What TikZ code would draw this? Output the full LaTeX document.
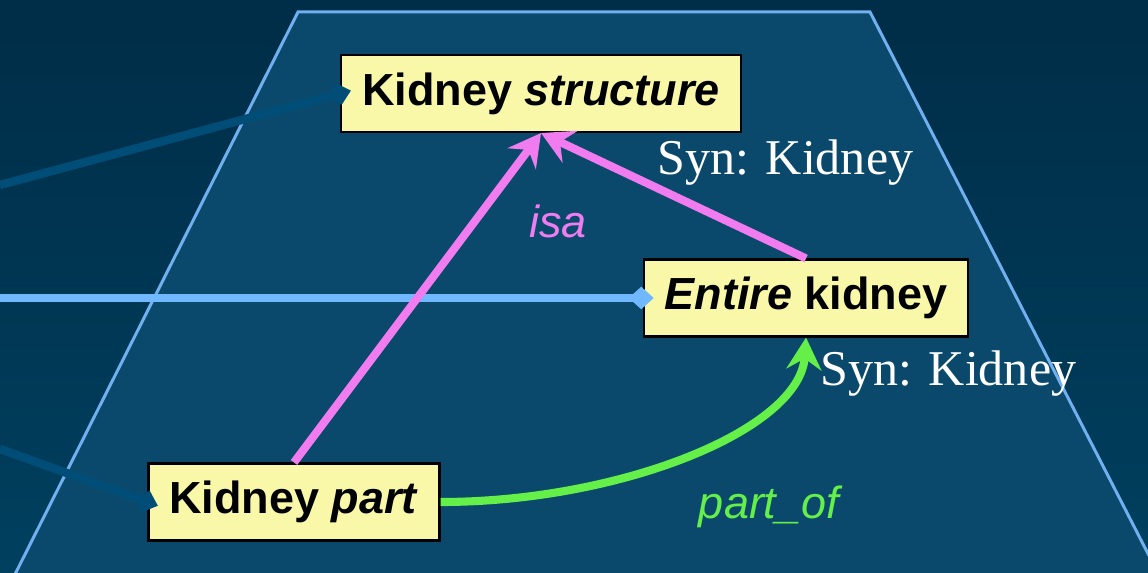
\documentclass[tikz,border=0pt]{standalone}
\usepackage{fontspec}
\setmainfont{Liberation Serif}
\setsansfont{Liberation Sans}
\usetikzlibrary{arrows.meta,positioning,calc}

\definecolor{slidetop}{HTML}{002D47}
\definecolor{slidebot}{HTML}{00405F}
\definecolor{planefill}{HTML}{0B496C}
\definecolor{planeedge}{HTML}{70B0F0}
\definecolor{termfill}{HTML}{F8F8A8}
\definecolor{isapink}{HTML}{F07CF0}
\definecolor{partgreen}{HTML}{64F048}
\definecolor{linklight}{HTML}{70B8FF}
\definecolor{linkdark}{HTML}{004E78}

\tikzset{
  term/.style={draw=black, line width=1.2pt, fill=termfill,
    font=\sffamily\bfseries\fontsize{25.6}{30}\selectfont,
    inner xsep=0.42cm, minimum height=1.54cm},
  syn/.style={text=white, font=\fontsize{28.5}{32}\selectfont, inner sep=0pt},
  rellabel/.style={font=\sffamily\itshape\fontsize{25.6}{30}\selectfont, inner sep=0pt},
  rel/.style={line width=4.6pt, -{Stealth[length=0.64cm,width=0.7cm,inset=0.22cm]}},
  link/.style={line width=4.8pt, -{Diamond[length=0.5cm,width=0.45cm]}, shorten >=-0.22cm},
}

\begin{document}
\begin{tikzpicture}[x=0.02cm, y=-0.02cm]
  \useasboundingbox (0,0) rectangle (1148,573);
  % backdrop and the tilted plane
  \shade[top color=slidetop, bottom color=slidebot] (0,0) rectangle (1148,573);
  \begin{scope}
    \clip (0,0) rectangle (1148,573);
    \draw[planeedge, fill=planefill, line width=1.7pt]
      (-8,620) -- (298,12) -- (870,12) -- (1182,620);
  \end{scope}

  % terms
  \node[term] (struct) at (541,93.5) {Kidney \textit{structure}};
  \node[term] (entire) at (806,298) {\textit{Entire} kidney};
  \node[term] (part) at (294,502) {Kidney \textit{part}};

  % synonyms
  \node[syn, anchor=base west] (synstruct) at (657,175) {Syn: Kidney};
  \node[syn, anchor=base west] (synentire) at (820,386) {Syn: Kidney};

  % links coming in from the left
  \coordinate (intop) at (0,185);
  \coordinate (inmid) at (0,298);
  \coordinate (inlow) at (0,449);
  \draw[link, linkdark] (intop) -- (struct.west);
  \draw[link, linklight] (inmid) -- (entire.west);
  \draw[link, linkdark] (inlow) -- (part.west);

  % relations
  \draw[rel, isapink] (part.north) -- (struct.south);
  \draw[rel, isapink] (entire.north) -- (struct.south);
  \draw[rel, partgreen] (part.east) .. controls (620,502) and (800,430) .. (entire.south);
  \node[rellabel, isapink, anchor=base] (isa) at (558,238) {isa};
  \node[rellabel, partgreen, anchor=base] (partof) at (769,518) {part\_of};
\end{tikzpicture}
\end{document}
